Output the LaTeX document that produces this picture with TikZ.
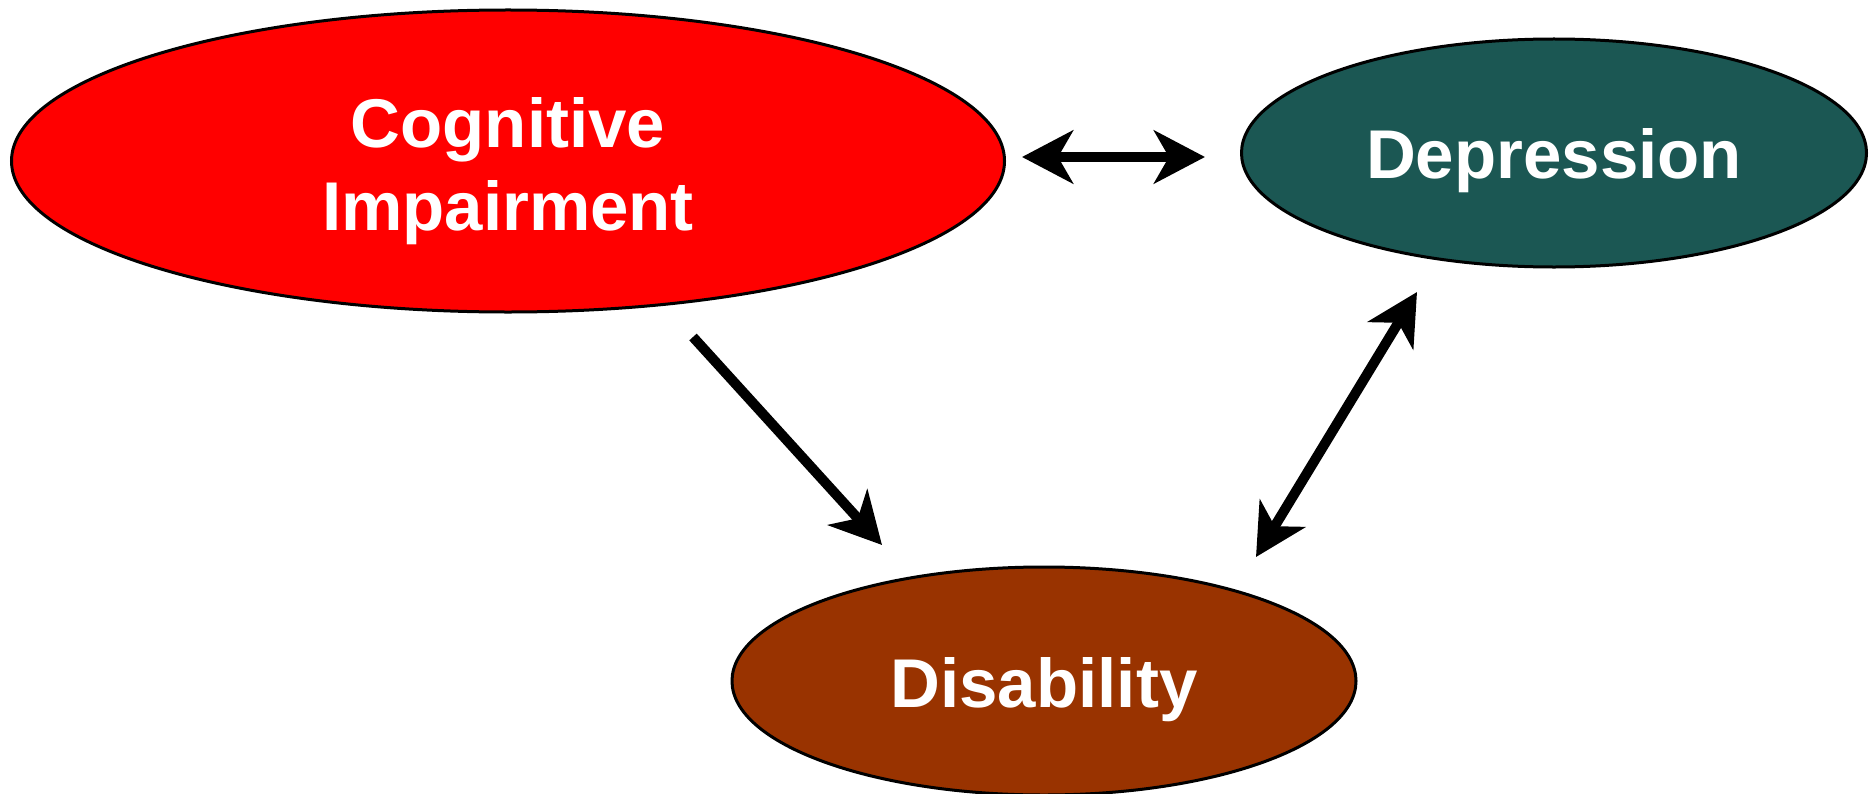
\documentclass[tikz,border=0pt]{standalone}
\usepackage{fontspec}
\setmainfont{Liberation Sans}
\usetikzlibrary{shapes.geometric,arrows.meta}
\definecolor{cogred}{HTML}{FF0000}
\definecolor{depteal}{HTML}{1B5753}
\definecolor{disbrown}{HTML}{993300}
\newcommand{\lowr}[2]{\raisebox{-#1}[0pt][0pt]{#2}}
\tikzset{
  blob/.style={ellipse, draw=black, line width=3bp, inner sep=0pt, text=white,
    align=center, font=\fontsize{69bp}{83bp}\selectfont\bfseries},
  bigarrow/.style={line width=10bp, black,
    arrows={-Stealth[length=51bp, width=53bp, inset=15bp]}},
  bigdarrow/.style={line width=10bp, black,
    arrows={Stealth[length=51bp, width=53bp, inset=15bp]-Stealth[length=51bp, width=53bp, inset=15bp]}}
}
\begin{document}
\begin{tikzpicture}[x=1bp,y=-1bp]
\useasboundingbox (0,0) rectangle (1875,794);
\node[blob, fill=cogred, minimum width=993bp, minimum height=302bp] (cog) at (508,161) {\lowr{27.5bp}{Cognitive}\\\lowr{27.5bp}{Impairment}};
\node[blob, fill=depteal, minimum width=625bp, minimum height=228bp] (dep) at (1554,153) {\lowr{25bp}{Depression}};
\node[blob, fill=disbrown, minimum width=624bp, minimum height=228bp] (dis) at (1044,681) {\lowr{26bp}{Disability}};
\coordinate (h1) at (1022,157);
\coordinate (h2) at (1205,157);
\coordinate (c1) at (693,337);
\coordinate (c2) at (882,545);
\coordinate (d1) at (1256,557);
\coordinate (d2) at (1417,292);
\draw[bigdarrow] (h1) -- (h2);
\draw[bigarrow] (c1) -- (c2);
\draw[bigdarrow] (d1) -- (d2);
\end{tikzpicture}
\end{document}
